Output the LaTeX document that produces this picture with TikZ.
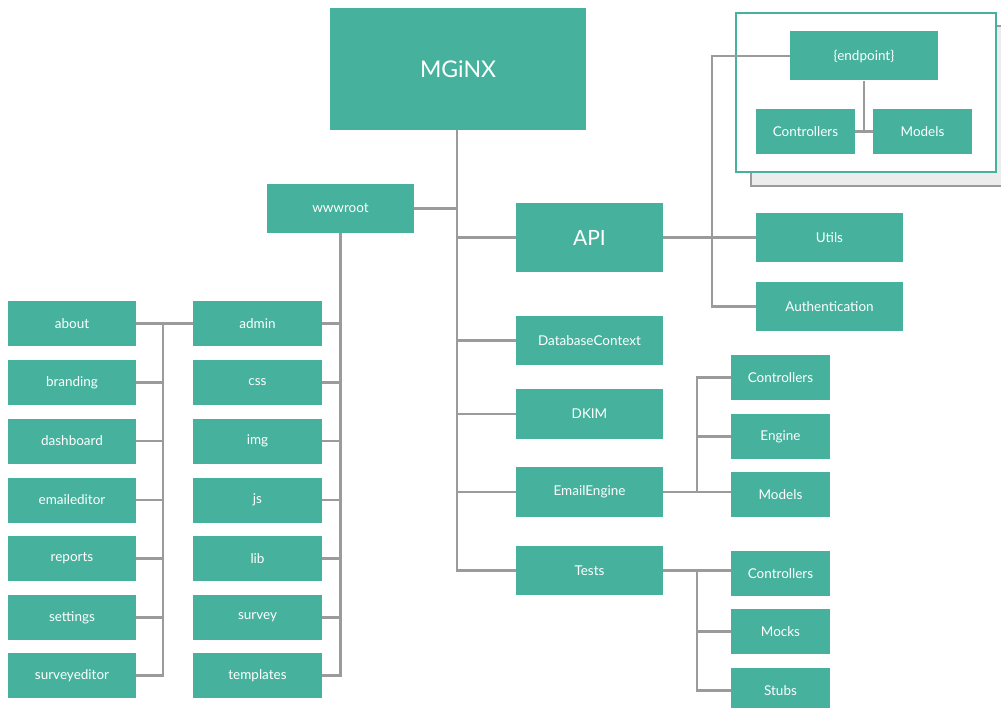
\documentclass[tikz,border=0pt]{standalone}
\usepackage{fontspec}
\setmainfont{Lato}
\definecolor{boxteal}{HTML}{46B29D}
\definecolor{wiregray}{HTML}{9B9B9B}
\definecolor{shadowgray}{HTML}{ECECEC}
\begin{document}
\begin{tikzpicture}[x=1pt,y=-1pt,
  box/.style={fill=boxteal,text=white,inner sep=0pt,anchor=center,
    font=\fontsize{13.5}{16}\selectfont},
  wide/.style={box,minimum width=147pt,minimum height=49pt},
  small/.style={box,minimum width=99pt,minimum height=45pt},
  leaf/.style={box,minimum width=128pt,minimum height=45pt},
  wire/.style={draw=wiregray,line width=2.4pt}]
\useasboundingbox (0,0) rectangle (1001,708);
\clip (0,0) rectangle (1001,708);

% endpoint group panel with its offset shadow
\draw[fill=shadowgray,draw=wiregray,line width=2pt] (751,26) rectangle (1010,186);
\draw[fill=white,draw=boxteal,line width=2pt] (736,13) rectangle (996,172);

% root and main branches
\node[box,minimum width=256pt,minimum height=122pt,font=\fontsize{23}{26}\selectfont] (mginx) at (458,69) {MGiNX};
\node[wide] (www) at (340.5,208.5) {wwwroot};
\node[wide,minimum height=69pt,font=\fontsize{21}{24}\selectfont] (api) at (589.5,237.5) {API};
\node[wide] (db) at (589.5,340.5) {DatabaseContext};
\node[wide,minimum height=50pt] (dkim) at (589.5,414) {DKIM};
\node[wide,minimum height=50pt] (ee) at (589.5,492) {EmailEngine};
\node[wide] (tests) at (589.5,570.5) {Tests};

% API children
\node[wide] (utils) at (829.5,237.5) {Utils};
\node[wide] (auth) at (829.5,306.5) {Authentication};
\node[wide,minimum width=148pt] (endpoint) at (864,56) {\{endpoint\}};
\node[small] (epctrl) at (805.5,131.5) {Controllers};
\node[small] (epmodels) at (922.5,131.5) {Models};

% EmailEngine children
\node[small] (eectrl) at (780.5,377.5) {Controllers};
\node[small] (eeeng) at (780.5,436.5) {Engine};
\node[small] (eemod) at (780.5,494.5) {Models};

% Tests children
\node[small] (tctrl) at (780.5,573.5) {Controllers};
\node[small] (tmocks) at (780.5,631.5) {Mocks};
\node[small] (tstubs) at (780.5,690.5) {Stubs};

% wwwroot folders
\node[leaf,minimum width=129pt] (admin) at (257.5,323.5) {admin};
\node[leaf,minimum width=129pt] (css) at (257.5,382.5) {css};
\node[leaf,minimum width=129pt] (img) at (257.5,441) {img};
\node[leaf,minimum width=129pt] (js) at (257.5,500) {js};
\node[leaf,minimum width=129pt] (lib) at (257.5,558.5) {lib};
\node[leaf,minimum width=129pt] (survey) at (257.5,617.5) {survey};
\node[leaf,minimum width=129pt] (templates) at (257.5,675.5) {templates};

% admin subfolders
\node[leaf] (about) at (72,323.5) {about};
\node[leaf] (branding) at (72,382.5) {branding};
\node[leaf] (dashboard) at (72,441) {dashboard};
\node[leaf] (emailed) at (72,500) {emaileditor};
\node[leaf] (reports) at (72,558.5) {reports};
\node[leaf] (settings) at (72,617.5) {settings};
\node[leaf] (surveyed) at (72,675.5) {surveyeditor};

% bus positions
\coordinate (trunk) at (457,0);
\coordinate (apibus) at (712,0);
\coordinate (eebus) at (697,0);
\coordinate (adminbus) at (163,0);

% main trunk
\draw[wire] (mginx.south -| trunk) -- (tests.west -| trunk) -- (tests.west);
\draw[wire] (www.east) -- (www.east -| trunk);
\draw[wire] (api.west -| trunk) -- (api.west);
\draw[wire] (db.west -| trunk) -- (db.west);
\draw[wire] (dkim.west -| trunk) -- (dkim.west);
\draw[wire] (ee.west -| trunk) -- (ee.west);

% API branch
\draw[wire] (api.east) -- (utils.west);
\draw[wire] (endpoint.west) -- (endpoint.west -| apibus) -- (auth.west -| apibus) -- (auth.west);
\draw[wire] (endpoint.south) -- (endpoint.south |- epctrl.east);
\draw[wire] (epctrl.east) -- (epmodels.west);

% EmailEngine branch
\draw[wire] (ee.east) -- (ee.east -| eemod.west);
\draw[wire] (eectrl.west) -- (eectrl.west -| eebus) -- (ee.east -| eebus);
\draw[wire] (eeeng.west) -- (eeeng.west -| eebus);

% Tests branch
\draw[wire] (tests.east) -- (tests.east -| tctrl.west);
\draw[wire] (tests.east -| eebus) -- (tstubs.west -| eebus) -- (tstubs.west);
\draw[wire] (tmocks.west) -- (tmocks.west -| eebus);

% wwwroot folders
\draw[wire] (www.south) -- (www.south |- templates.east) -- (templates.east);
\foreach \n in {admin,css,img,js,lib,survey}
  \draw[wire] (\n.east) -- (\n.east -| www.south);

% admin subfolders
\draw[wire] (about.east) -- (admin.west);
\draw[wire] (about.east -| adminbus) -- (surveyed.east -| adminbus) -- (surveyed.east);
\foreach \n in {branding,dashboard,emailed,reports,settings}
  \draw[wire] (\n.east) -- (\n.east -| adminbus);
\end{tikzpicture}
\end{document}
